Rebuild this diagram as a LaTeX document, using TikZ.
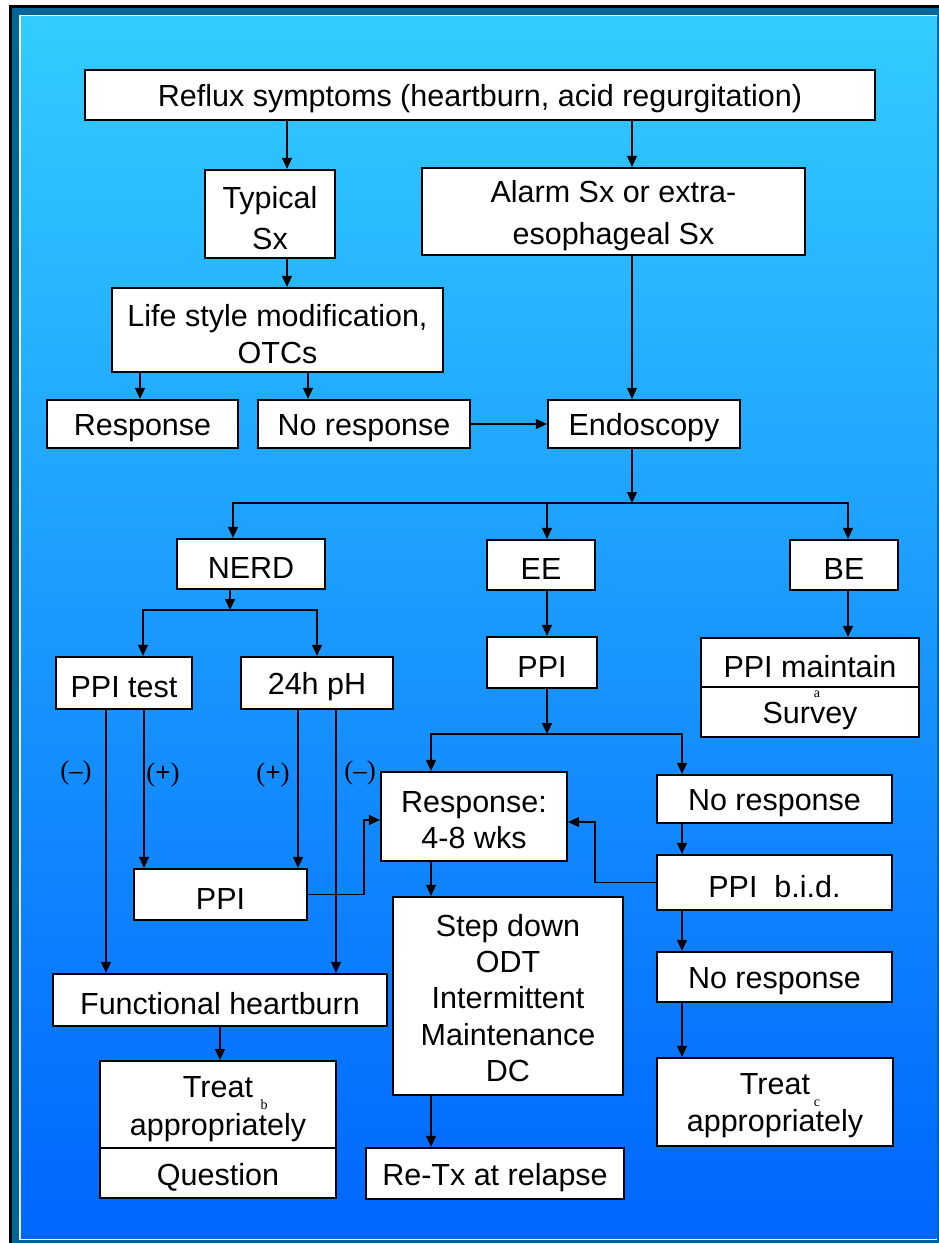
\documentclass[tikz,border=0pt]{standalone}
\usepackage{fontspec}
\setmainfont{Liberation Sans}
\newfontfamily\seriffont{Liberation Serif}
\usetikzlibrary{arrows.meta,calc}
\definecolor{bgtop}{HTML}{33CCFF}
\definecolor{bgbot}{HTML}{0066FF}
\definecolor{framec}{HTML}{006699}
\tikzset{
  boxshape/.style={draw=black, line width=2.2pt, fill=white, inner sep=0pt},
  boxtext/.style={align=center, inner sep=0pt, text=black,
    font=\fontsize{30.5}{37}\selectfont},
  conn/.style={line width=1.5pt, draw=black},
  arr/.style={conn, -{Triangle[length=11pt,width=10pt]}},
  lbl/.style={font=\seriffont\fontsize{27}{30}\selectfont, text=black, inner sep=0pt},
  supmark/.style={font=\seriffont\fontsize{14}{14}\selectfont, text=black, inner sep=0pt}
}
% \bx[text options]{name}{cx}{cy}{w}{h}{text}
\newcommand\bx[7][]{%
  \node[boxshape, minimum width=#5, minimum height=#6] (#2) at (#3,#4) {};
  \node[boxtext,#1] (#2-t) at (#3,#4+4) {#7};
}
\begin{document}
\begin{tikzpicture}[x=1pt,y=-1pt]
\useasboundingbox (0,0) rectangle (939,1243);
% frame and background
\fill[black] (9,5) rectangle (960,1260);
\fill[framec] (12,7.5) rectangle (960,1260);
\fill[white] (19,14.5) rectangle (937,1239.5);
\shade[top color=bgtop, bottom color=bgbot] (20.8,16) rectangle (936.5,1238);

% nodes
\bx{reflux}{480}{95}{790}{50}{Reflux symptoms (heartburn, acid regurgitation)}
\bx[font=\fontsize{30.5}{41}\selectfont]{typical}{270}{214}{130}{88}{Typical\\Sx}
\bx[font=\fontsize{30.5}{42}\selectfont]{alarm}{613.5}{211.5}{383}{87}{Alarm Sx or extra-\\esophageal Sx}
\bx{life}{277.5}{330}{331}{84}{Life style modification,\\OTCs}
\bx{resp1}{142.5}{424}{191}{48}{Response}
\bx{noresp1}{364}{424}{212}{48}{No response}
\bx{endo}{644}{424}{192}{48}{Endoscopy}
\bx{nerd}{251}{564}{148}{50}{NERD}
\bx{ee}{541}{565}{108}{50}{EE}
\bx{be}{844}{565}{108}{50}{BE}
\bx{ppitest}{124}{683}{136}{52}{PPI test}
\bx{ph}{317}{683}{152}{52}{24h pH}
\bx{ppiee}{542}{662.5}{110}{51}{PPI}
\bx{ppim}{810}{662.5}{218}{49}{PPI maintain}
\bx{survey}{810}{712}{218}{50}{Survey}
\bx[font=\fontsize{30.5}{36}\selectfont]{resp48}{474}{816.5}{186}{89}{Response:\\4-8 wks}
\bx{noresp2}{774.5}{799}{235}{48}{No response}
\bx{bid}{774.5}{882.5}{235}{55}{PPI\ \ b.i.d.}
\bx{ppil}{220.5}{894.5}{173}{51}{PPI}
\bx[font=\fontsize{30.5}{36.3}\selectfont, yshift=2]{stepdown}{508}{996}{230}{198}{Step down\\ODT\\Intermittent\\Maintenance\\DC}
\bx{func}{220}{1000}{334}{52}{Functional heartburn}
\bx{noresp3}{774.5}{977}{235}{50}{No response}
\bx[font=\fontsize{30.5}{38}\selectfont, yshift=-1]{treatl}{218}{1104.5}{236}{87}{Treat\\appropriately}
\bx{question}{218}{1173}{236}{50}{Question}
\bx{treatr}{775}{1102}{236}{88}{Treat\\appropriately}
\bx{retx}{495}{1173.5}{258}{51}{Re-Tx at relapse}

% superscript marks
\node[supmark] (supa) at (817,694) {a};
\node[supmark] (supb) at (264,1105) {b};
\node[supmark] (supc) at (817,1103) {c};

% branch labels
\node[lbl] (m1) at (76,773) {(–)};
\node[lbl] (p1) at (163,775) {(\textbf{+})};
\node[lbl] (p2) at (273,775) {(\textbf{+})};
\node[lbl] (m2) at (360,773) {(–)};

% helper columns / rows
\coordinate (cA) at (287,0);
\coordinate (cB) at (632,0);
\coordinate (cR1) at (140,0);
\coordinate (cN1) at (308,0);
\coordinate (jE) at (632,503);
\coordinate (cNerd) at (233,0);
\coordinate (cEE) at (547,0);
\coordinate (cBE) at (848,0);
\coordinate (jN) at (230,610);
\coordinate (cPT) at (143,0);
\coordinate (cPH) at (317,0);
\coordinate (cM1) at (106,0);
\coordinate (cP1) at (144,0);
\coordinate (cP2) at (298,0);
\coordinate (cM2) at (336,0);
\coordinate (jP) at (547,734);
\coordinate (cL) at (431,0);
\coordinate (cR) at (682,0);
\coordinate (kX) at (364,0);
\coordinate (kY) at (0,820);
\coordinate (bX) at (595,0);
\coordinate (bY) at (0,822);
\coordinate (cF) at (220,0);

% connectors
\draw[arr] (reflux.south -| cA) -- (typical.north -| cA);
\draw[arr] (reflux.south -| cB) -- (alarm.north -| cB);
\draw[arr] (typical.south -| cA) -- (life.north -| cA);
\draw[arr] (life.south -| cR1) -- (resp1.north -| cR1);
\draw[arr] (life.south -| cN1) -- (noresp1.north -| cN1);
\draw[arr] (noresp1.east) -- (endo.west);
\draw[arr] (alarm.south -| cB) -- (endo.north -| cB);
\draw[arr] (endo.south -| cB) -- (jE);
\draw[arr] (jE) -- (jE -| cNerd) -- (nerd.north -| cNerd);
\draw[arr] (jE -| cEE) -- (ee.north -| cEE);
\draw[arr] (jE) -- (jE -| cBE) -- (be.north -| cBE);
\draw[arr] (nerd.south -| jN) -- (jN);
\draw[arr] (jN) -- (jN -| cPT) -- (ppitest.north -| cPT);
\draw[arr] (jN) -- (jN -| cPH) -- (ph.north -| cPH);
\draw[arr] (ppitest.south -| cM1) -- (func.north -| cM1);
\draw[arr] (ppitest.south -| cP1) -- (ppil.north -| cP1);
\draw[arr] (ph.south -| cP2) -- (ppil.north -| cP2);
\draw[arr] (ph.south -| cM2) -- (func.north -| cM2);
\draw[arr] (ppil.east) -- (ppil.east -| kX) -- (kX |- kY) -- (resp48.west |- kY);
\draw[arr] (ee.south -| cEE) -- (ppiee.north -| cEE);
\draw[arr] (ppiee.south -| jP) -- (jP);
\draw[arr] (jP) -- (jP -| cL) -- (resp48.north -| cL);
\draw[arr] (jP) -- (jP -| cR) -- (noresp2.north -| cR);
\draw[arr] (be.south -| cBE) -- (ppim.north -| cBE);
\draw[arr] (bid.west) -- (bid.west -| bX) -- (bX |- bY) -- (resp48.east |- bY);
\draw[arr] (noresp2.south -| cR) -- (bid.north -| cR);
\draw[arr] (bid.south -| cR) -- (noresp3.north -| cR);
\draw[arr] (noresp3.south -| cR) -- (treatr.north -| cR);
\draw[arr] (resp48.south -| cL) -- (stepdown.north -| cL);
\draw[arr] (stepdown.south -| cL) -- (retx.north -| cL);
\draw[arr] (func.south -| cF) -- (treatl.north -| cF);
\end{tikzpicture}
\end{document}
